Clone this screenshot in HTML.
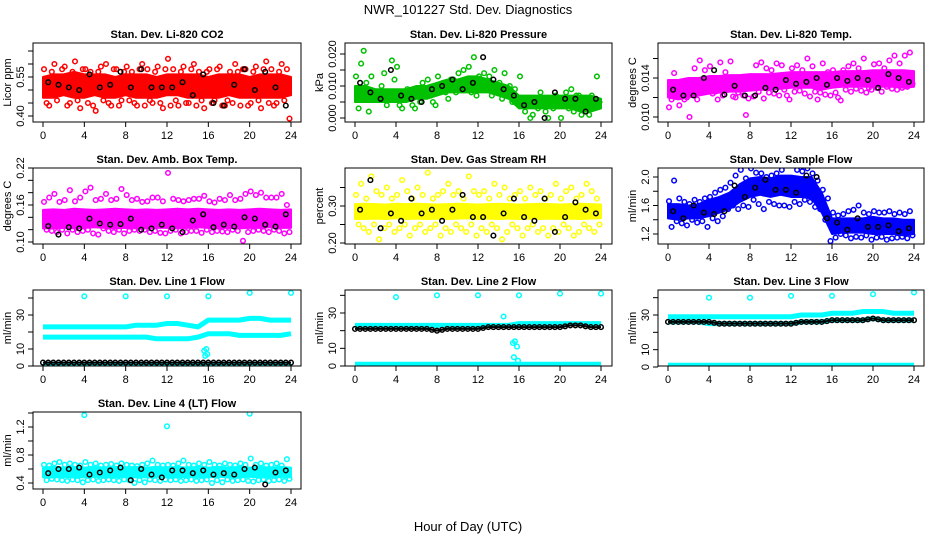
<!DOCTYPE html>
<html><head><meta charset="utf-8">
<style>
html,body{margin:0;padding:0;background:#fff;}
svg{display:block;font-family:"Liberation Sans",Arial,sans-serif;}
</style></head>
<body>
<svg id="chart" width="936" height="540" viewBox="0 0 936 540" xmlns="http://www.w3.org/2000/svg">
<rect x="0" y="0" width="936" height="540" fill="#fff"/>
<text x="468" y="14" text-anchor="middle" font-size="13">NWR_101227  Std. Dev. Diagnostics</text>
<text x="468" y="531" text-anchor="middle" font-size="13">Hour of Day (UTC)</text>
</svg>
<script>
// ---- data ----
const hourTicks=[0,4,8,12,16,20,24];
// CO2
const co2Lo=[0.47,0.47,0.48,0.47,0.47,0.48,0.47,0.47,0.48,0.47,0.47,0.47,0.48,0.48,0.47,0.47,0.47,0.47,0.48,0.47,0.47,0.47,0.47,0.47,0.48];
const co2Hi=[0.55,0.56,0.56,0.57,0.56,0.56,0.56,0.55,0.56,0.56,0.56,0.55,0.56,0.56,0.56,0.56,0.55,0.56,0.56,0.56,0.55,0.56,0.56,0.56,0.55];
const co2A=[0.58,0.44,0.60,0.52,0.59,0.45,0.61,0.43,0.58,0.57,0.42,0.59,0.60,0.44,0.58,0.46,0.59,0.57,0.44,0.60,0.58,0.45,0.59,0.43,0.62,0.58,0.44,0.59,0.45,0.60,0.57,0.43,0.58,0.46,0.59,0.44,0.57,0.60,0.44,0.58,0.45,0.59,0.43,0.61,0.58,0.45,0.60,0.58];
const co2B=[0.45,0.57,0.46,0.58,0.44,0.57,0.46,0.58,0.45,0.44,0.57,0.46,0.45,0.58,0.44,0.57,0.46,0.45,0.58,0.44,0.46,0.57,0.45,0.58,0.44,0.46,0.57,0.45,0.58,0.44,0.46,0.57,0.45,0.58,0.44,0.46,0.45,0.57,0.58,0.44,0.57,0.46,0.58,0.45,0.44,0.57,0.46,0.39];
const co2Black=[0.53,0.52,0.51,0.50,0.56,0.51,0.52,0.57,0.51,0.58,0.51,0.51,0.51,0.53,0.48,0.56,0.45,0.44,0.52,0.58,0.50,0.57,0.51,0.44];
// Pressure
const prsLo=[0.005,0.005,0.005,0.005,0.005,0.005,0.006,0.006,0.007,0.008,0.008,0.008,0.008,0.008,0.007,0.006,0.003,0.003,0.003,0.003,0.003,0.003,0.002,0.002,0.003];
const prsHi=[0.010,0.010,0.009,0.009,0.009,0.009,0.010,0.010,0.011,0.012,0.012,0.013,0.013,0.012,0.011,0.010,0.007,0.007,0.007,0.007,0.007,0.007,0.007,0.007,0.006];
const prsA=[0.013,0.017,0.011,0.013,0.006,0.010,0.004,0.018,0.016,0.003,0.009,0.004,0.007,0.011,0.012,0.005,0.013,0.011,0.006,0.012,0.014,0.015,0.016,0.019,0.013,0.014,0.013,0.015,0.011,0.014,0.010,0.009,0.013,0.002,0.000,0.005,0.008,0.002,0.004,0.007,0.000,0.008,0.009,0.007,0.001,0.005,0.007,0.013];
const prsB=[0.003,0.021,0.002,0.008,0.007,0.014,0.008,0.012,0.004,0.006,0.006,0.003,0.005,0.009,0.007,0.004,0.009,0.008,0.012,0.008,0.009,0.010,0.008,0.007,0.011,0.010,0.007,0.008,0.006,0.009,0.005,0.006,0.006,0.004,0.001,0.003,0.006,0.000,0.003,0.004,0.006,0.003,0.002,0.007,0.004,0.001,0.003,0.005];
const prsBlack=[0.011,0.008,0.006,0.015,0.007,0.006,0.005,0.009,0.010,0.012,0.009,0.011,0.019,0.012,0.009,0.007,0.004,0.005,0.000,0.008,0.006,0.006,0.002,0.006];
// Li-820 temp
const tmpLo=[0.0120,0.0118,0.0120,0.0122,0.0124,0.0125,0.0126,0.0126,0.0127,0.0128,0.0128,0.0129,0.0130,0.0130,0.0130,0.0128,0.0130,0.0131,0.0131,0.0131,0.0131,0.0131,0.0131,0.0130,0.0131];
const tmpHi=[0.0138,0.0138,0.0140,0.0140,0.0142,0.0142,0.0143,0.0143,0.0144,0.0144,0.0144,0.0145,0.0146,0.0146,0.0146,0.0146,0.0146,0.0147,0.0147,0.0147,0.0148,0.0148,0.0148,0.0148,0.0147];
const tmpA=[0.0110,0.0145,0.0112,0.0118,0.0100,0.0150,0.0158,0.0148,0.0152,0.0126,0.0156,0.0146,0.0157,0.0120,0.0140,0.0102,0.0140,0.0153,0.0156,0.0150,0.0148,0.0155,0.0153,0.0122,0.0150,0.0153,0.0148,0.0160,0.0152,0.0118,0.0155,0.0146,0.0148,0.0120,0.0148,0.0152,0.0155,0.0150,0.0160,0.0130,0.0154,0.0155,0.0150,0.0158,0.0163,0.0155,0.0163,0.0166];
const tmpB=[0.0118,0.0125,0.0130,0.0120,0.0126,0.0118,0.0125,0.0131,0.0124,0.0118,0.0122,0.0128,0.0121,0.0125,0.0122,0.0119,0.0121,0.0126,0.0119,0.0125,0.0124,0.0122,0.0128,0.0118,0.0126,0.0127,0.0124,0.0121,0.0126,0.0125,0.0123,0.0122,0.0125,0.0117,0.0128,0.0126,0.0129,0.0127,0.0125,0.0128,0.0130,0.0126,0.0131,0.0129,0.0128,0.0130,0.0131,0.0134];
const tmpBlack=[0.0128,0.0122,0.0122,0.0140,0.0148,0.0123,0.0132,0.0122,0.0122,0.0130,0.0128,0.0138,0.0134,0.0136,0.0140,0.0133,0.0140,0.0137,0.0140,0.0138,0.0130,0.0144,0.0140,0.0136];
// Amb box temp
const ambLo=[0.122,0.122,0.123,0.122,0.123,0.124,0.123,0.122,0.123,0.122,0.122,0.123,0.123,0.122,0.123,0.124,0.123,0.122,0.123,0.122,0.123,0.123,0.124,0.123,0.123];
const ambHi=[0.152,0.153,0.152,0.154,0.153,0.152,0.153,0.154,0.153,0.152,0.153,0.152,0.153,0.154,0.153,0.154,0.153,0.152,0.153,0.152,0.153,0.154,0.153,0.152,0.153];
const ambA=[0.165,0.172,0.178,0.165,0.168,0.184,0.166,0.172,0.182,0.188,0.168,0.170,0.178,0.168,0.170,0.186,0.176,0.168,0.170,0.165,0.166,0.172,0.172,0.166,0.212,0.170,0.168,0.166,0.168,0.170,0.170,0.175,0.166,0.164,0.170,0.168,0.176,0.168,0.170,0.178,0.182,0.176,0.180,0.172,0.172,0.172,0.178,0.160];
const ambB=[0.120,0.118,0.116,0.120,0.114,0.120,0.116,0.118,0.120,0.114,0.112,0.122,0.118,0.116,0.120,0.114,0.118,0.120,0.118,0.120,0.116,0.118,0.115,0.114,0.118,0.120,0.114,0.116,0.118,0.118,0.115,0.120,0.116,0.118,0.117,0.116,0.120,0.118,0.102,0.116,0.118,0.120,0.118,0.116,0.120,0.118,0.114,0.116];
const ambBlack=[0.126,0.112,0.124,0.122,0.138,0.130,0.128,0.129,0.138,0.120,0.122,0.128,0.122,0.116,0.135,0.145,0.124,0.128,0.125,0.140,0.138,0.128,0.125,0.145];
// Gas stream RH
const rhLo=[0.265,0.265,0.266,0.265,0.267,0.265,0.266,0.265,0.266,0.265,0.266,0.267,0.265,0.266,0.265,0.266,0.265,0.266,0.265,0.266,0.265,0.266,0.265,0.266,0.267];
const rhHi=[0.305,0.306,0.305,0.304,0.306,0.305,0.306,0.305,0.304,0.305,0.306,0.305,0.304,0.305,0.306,0.305,0.304,0.305,0.306,0.305,0.304,0.305,0.306,0.305,0.304];
const rhA=[0.33,0.36,0.32,0.38,0.34,0.33,0.35,0.32,0.33,0.37,0.34,0.32,0.35,0.33,0.39,0.32,0.33,0.34,0.36,0.33,0.34,0.32,0.38,0.34,0.33,0.34,0.32,0.36,0.33,0.35,0.32,0.33,0.34,0.32,0.35,0.33,0.34,0.32,0.33,0.36,0.32,0.34,0.35,0.32,0.33,0.36,0.34,0.32];
const rhB=[0.25,0.24,0.23,0.25,0.21,0.24,0.25,0.23,0.24,0.25,0.22,0.24,0.25,0.23,0.24,0.25,0.22,0.24,0.23,0.25,0.24,0.23,0.25,0.22,0.24,0.23,0.25,0.24,0.21,0.23,0.25,0.24,0.22,0.24,0.25,0.23,0.24,0.22,0.24,0.23,0.25,0.24,0.22,0.23,0.25,0.24,0.23,0.25];
const rhBlack=[0.29,0.37,0.24,0.28,0.26,0.32,0.28,0.29,0.26,0.29,0.33,0.27,0.27,0.22,0.28,0.32,0.27,0.26,0.32,0.23,0.27,0.31,0.29,0.28];
// Sample flow
const sfLo=[1.42,1.40,1.42,1.42,1.45,1.50,1.55,1.65,1.72,1.75,1.72,1.75,1.72,1.72,1.70,1.50,1.20,1.22,1.22,1.22,1.20,1.20,1.20,1.18,1.20];
const sfHi=[1.62,1.62,1.60,1.62,1.68,1.72,1.78,1.90,1.98,2.00,1.98,2.02,2.02,2.00,2.00,1.78,1.42,1.42,1.42,1.42,1.44,1.42,1.42,1.40,1.40];
const sfA=[1.66,1.95,1.70,1.65,1.62,1.68,1.65,1.70,1.72,1.78,1.82,1.85,1.92,2.02,2.10,1.98,2.12,2.06,2.05,2.00,2.02,2.05,2.10,2.26,2.18,2.10,2.08,2.12,2.05,1.95,1.82,1.70,1.50,1.46,1.48,1.52,1.54,1.60,1.50,1.48,1.52,1.50,1.50,1.52,1.48,1.50,1.48,1.52];
const sfB=[1.30,1.38,1.35,1.32,1.40,1.36,1.38,1.30,1.42,1.38,1.45,1.55,1.60,1.55,1.60,1.58,1.68,1.62,1.55,1.65,1.62,1.60,1.60,1.58,1.65,1.62,1.68,1.65,1.58,1.55,1.40,1.10,1.15,1.20,1.18,1.14,1.16,1.15,1.18,1.12,1.15,1.16,1.12,1.14,1.15,1.16,1.14,1.18];
const sfBlack=[1.52,1.42,1.60,1.50,1.48,1.52,1.88,1.72,1.85,1.96,1.82,1.82,1.78,2.02,2.00,1.42,1.36,1.26,1.42,1.30,1.30,1.32,1.24,1.28];
// Line flows (tracks are hourly values)
const l1Upper=[23,23,23,23,23,23,23,23,23,24,24,24,25,25,24,23,27,27,27,27,28,28,27,27,27];
const l1Mid=[17,17,17,17,17,17,17,17,17,17,17,16,16,16,16,17,19,19,19,18,18,18,18,18,19];
const l1Low=[1,1,1,1,1,1,1,1,1,1,1,1,1,1,1,1,1,1,1,1,1,1,1,1,1];
const l1Black=[2,2,2,2,2,2,2,2,2,2,2,2,2,2,2,2,2,2,2,2,2,2,2,2,2];
const spikeHours=[4,8,12,16,20,24];
const l1Spikes=[41,41,41,41,43,43];
const l1DipHours=[15.6,15.7,15.8,15.9];
const l1Dips=[9,6,10,7];
const l2Upper=[23,23,23,23,23,23,23,23,23,23,23,23,23,23,23,23,24,24,24,24,24,24,24,24,24];
const l2Black=[21,21,21,21,21,21,21,21,20,21,21,21,21,22,22,22,22,22,22,22,22,23,23,22,22];
const l2Low=[1,1,1,1,1,1,1,1,1,1,1,1,1,1,1,1,1,1,1,1,1,1,1,1,1];
const l2Spikes=[39,40,40,40,41,41];
const l2DipHours=[14.5,15.4,15.6,15.8,15.5,15.9];
const l2Dips=[28,13,14,11,5,3];
const l3Upper=[29,29,29,29,29,29,29,29,29,29,29,29,29,30,30,30,31,31,31,32,32,32,31,31,31];
const l3Mid=[26,26,26,26,25,25,25,25,25,25,25,25,25,26,26,26,27,27,27,27,28,27,27,27,27];
const l3Black=[26,26,26,26,26,25,25,25,25,25,25,25,25,26,26,26,27,27,27,27,28,27,27,27,27];
const l3Low=[1,1,1,1,1,1,1,1,1,1,1,1,1,1,1,1,1,1,1,1,1,1,1,1,1];
const l3Spikes=[40,40,41,41,42,43];
// Line 4
const l4Lo=[0.48,0.48,0.49,0.48,0.48,0.49,0.48,0.48,0.49,0.48,0.48,0.49,0.48,0.48,0.49,0.48,0.48,0.49,0.48,0.48,0.49,0.48,0.48,0.49,0.48];
const l4Hi=[0.62,0.63,0.62,0.63,0.62,0.63,0.62,0.63,0.62,0.63,0.62,0.63,0.62,0.63,0.62,0.63,0.62,0.63,0.62,0.63,0.62,0.63,0.62,0.63,0.62];
const l4A=[0.66,0.65,0.68,0.70,0.66,0.68,0.66,0.65,0.70,0.66,0.68,0.65,0.66,0.67,0.65,0.68,0.66,0.65,0.64,0.66,0.68,0.72,0.66,0.65,0.66,0.65,0.68,0.72,0.66,0.65,0.68,0.66,0.70,0.66,0.65,0.68,0.66,0.65,0.68,0.66,0.75,0.66,0.68,0.65,0.66,0.68,0.65,0.74];
const l4B=[0.44,0.46,0.45,0.44,0.43,0.45,0.44,0.41,0.44,0.45,0.43,0.44,0.45,0.44,0.43,0.45,0.44,0.40,0.44,0.41,0.45,0.44,0.43,0.45,0.44,0.45,0.43,0.44,0.45,0.43,0.44,0.45,0.40,0.44,0.41,0.45,0.43,0.44,0.45,0.43,0.42,0.44,0.45,0.43,0.44,0.45,0.43,0.46];
const l4Black=[0.54,0.60,0.60,0.62,0.52,0.55,0.58,0.62,0.44,0.60,0.52,0.48,0.58,0.58,0.54,0.58,0.52,0.54,0.52,0.60,0.62,0.38,0.55,0.58];
const l4SpikeHours=[4,12,20];
const l4Spikes=[1.37,1.21,1.39];

// ---- panels ----
const svg=document.getElementById('chart');
const NS='http://www.w3.org/2000/svg';
function el(tag,attrs,parent){const e=document.createElementNS(NS,tag);for(const k in attrs)e.setAttribute(k,attrs[k]);(parent||svg).appendChild(e);return e;}
const halfA=co2A.map((_,i)=>i*0.5+0.1), halfB=co2B.map((_,i)=>i*0.5+0.35), hourIdx=co2Lo.map((_,i)=>i), blackH=co2Black.map((_,i)=>i+0.5);

const panels=[
 {name:'co2',title:'Stan. Dev. Li-820 CO2',ylab:'Licor ppm',box:[33,43,301,122],x0:43,x24:291,ya:[0.40,116],yb:[0.55,77],ticks:[0.40,0.45,0.50,0.55,0.60,0.65],labels:['0.40','0.55'],col:'#ff0000',lo:co2Lo,hi:co2Hi,A:co2A,B:co2B,K:co2Black},
 {name:'pressure',title:'Stan. Dev. Li-820 Pressure',ylab:'kPa',box:[345,43,612,122],x0:355,x24:601,ya:[0,118],yb:[0.020,54],ticks:[0,0.005,0.010,0.015,0.020],labels:['0.000','0.010','0.020'],col:'#00c000',lo:prsLo,hi:prsHi,A:prsA,B:prsB,K:prsBlack},
 {name:'licor-temp',title:'Stan. Dev. Li-820 Temp.',ylab:'degrees C',box:[658,43,924,122],x0:668,x24:914,ya:[0.010,117],yb:[0.014,78],ticks:[0.010,0.012,0.014,0.016],labels:['0.010','0.014'],col:'#ff00ff',lo:tmpLo,hi:tmpHi,A:tmpA,B:tmpB,K:tmpBlack},
 {name:'amb-box-temp',title:'Stan. Dev. Amb. Box Temp.',ylab:'degrees C',box:[33,168,301,244],x0:43,x24:291,ya:[0.10,242],yb:[0.22,168],ticks:[0.10,0.12,0.14,0.16,0.18,0.20,0.22],labels:['0.10','0.16','0.22'],col:'#ff00ff',lo:ambLo,hi:ambHi,A:ambA,B:ambB,K:ambBlack},
 {name:'gas-rh',title:'Stan. Dev. Gas Stream RH',ylab:'percent',box:[345,168,612,244],x0:355,x24:601,ya:[0.20,243],yb:[0.30,206],ticks:[0.20,0.25,0.30,0.35],labels:['0.20','0.30'],col:'#ffff00',lo:rhLo,hi:rhHi,A:rhA,B:rhB,K:rhBlack},
 {name:'sample-flow',title:'Stan. Dev. Sample Flow',ylab:'ml/min',box:[658,168,924,244],x0:668,x24:914,ya:[1.2,234],yb:[2.0,177],ticks:[1.2,1.4,1.6,1.8,2.0],labels:['1.2','1.6','2.0'],col:'#0000ff',lo:sfLo,hi:sfHi,A:sfA,B:sfB,K:sfBlack},
 {name:'line1-flow',title:'Stan. Dev. Line 1 Flow',ylab:'ml/min',box:[33,290,301,366],x0:43,x24:291,ya:[0,366],yb:[30,315],ticks:[0,10,20,30,40],labels:['0','10','30'],col:'#00ffff',tracks:[l1Upper,l1Mid,l1Low],blackTrack:l1Black,spikes:[[spikeHours,l1Spikes],[l1DipHours,l1Dips]]},
 {name:'line2-flow',title:'Stan. Dev. Line 2 Flow',ylab:'ml/min',box:[345,290,612,366],x0:355,x24:601,ya:[0,366],yb:[30,313],ticks:[0,10,20,30,40],labels:['0','10','30'],col:'#00ffff',tracks:[l2Upper,l2Low],blackTrack:l2Black,spikes:[[spikeHours,l2Spikes],[l2DipHours,l2Dips]]},
 {name:'line3-flow',title:'Stan. Dev. Line 3 Flow',ylab:'ml/min',box:[658,290,924,366],x0:668,x24:914,ya:[0,367],yb:[30,315],ticks:[0,10,20,30,40],labels:['0','10','30'],col:'#00ffff',tracks:[l3Upper,l3Mid,l3Low],blackTrack:l3Black,spikes:[[spikeHours,l3Spikes]]},
 {name:'line4-flow',title:'Stan. Dev. Line 4 (LT) Flow',ylab:'ml/min',box:[33,412,301,489],x0:43,x24:291,ya:[0.4,483],yb:[1.2,427],ticks:[0.4,0.6,0.8,1.0,1.2,1.4],labels:['0.4','0.8','1.2'],col:'#00ffff',lo:l4Lo,hi:l4Hi,A:l4A,B:l4B,K:l4Black,spikes:[[l4SpikeHours,l4Spikes]]}
];

panels.forEach(p=>{
 const g=el('g',{});
 
 
 const [L,T,R,B]=p.box;
 const X=h=>p.x0+h*(p.x24-p.x0)/24;
 const Y=v=>p.ya[1]+(v-p.ya[0])*(p.yb[1]-p.ya[1])/(p.yb[0]-p.ya[0]);
 const clip='clip-'+p.name;
 const cp=el('clipPath',{id:clip},g); el('rect',{x:L,y:T,width:R-L,height:B-T},cp);
 const plot=el('g',{'clip-path':'url(#'+clip+')'},g);
 const pt=(h,v,c,cls)=>{const c1=el('circle',{cx:X(h).toFixed(1),cy:Y(v).toFixed(1),r:2.3,fill:'none',stroke:c,'stroke-width':1.5},plot);
   
   };
 if(p.lo){
   const pts=p.lo.map((v,i)=>X(hourIdx[i])+','+Y(v)).concat(p.hi.map((v,i)=>X(hourIdx[i])+','+Y(v)).reverse());
   const band=el('polygon',{points:pts.join(' '),fill:p.col,stroke:p.col,'stroke-width':2,'stroke-linejoin':'round'},plot);
   
   
   p.A.forEach((v,i)=>pt(halfA[i],v,p.col,'point'));
   p.B.forEach((v,i)=>pt(halfB[i],v,p.col,'point'));
 }
 if(p.tracks){
   p.tracks.forEach(tr=>{
     const ln=el('polyline',{points:tr.map((v,i)=>X(hourIdx[i])+','+Y(v)).join(' '),fill:'none',stroke:p.col,'stroke-width':5,'stroke-linejoin':'round'},plot);
     
     
   });
 }
 if(p.spikes){p.spikes.forEach(([hs,vs])=>vs.forEach((v,i)=>pt(hs[i],v,p.col,'outlier-point')));}
 if(p.blackTrack){
   const ln=el('polyline',{points:p.blackTrack.map((v,i)=>X(hourIdx[i])+','+Y(v)).join(' '),fill:'none',stroke:'#000','stroke-width':2},plot);
   
   
   p.blackTrack.forEach((v,i)=>{pt(hourIdx[i],v,'#000','reference-point'); if(i<24) pt(hourIdx[i]+0.5,(v+p.blackTrack[i+1])/2,'#000','reference-point');});
 }
 if(p.K){p.K.forEach((v,i)=>pt(blackH[i],v,'#000','reference-point'));}
 // frame
 const fr=el('rect',{x:L,y:T,width:R-L,height:B-T,fill:'none',stroke:'#000','stroke-width':1},g);
 
 
 // title
 const t=el('text',{x:(L+R)/2,y:T-5,'text-anchor':'middle','font-size':11,'font-weight':'bold'},g); t.textContent=p.title;
 
 
 // x axis
 el('line',{x1:X(0),y1:B,x2:X(24),y2:B,stroke:'#000'},g);
 hourTicks.forEach(h=>{
   el('line',{x1:X(h),y1:B,x2:X(h),y2:B+5,stroke:'#000'},g);
   const tx=el('text',{x:X(h),y:B+17,'text-anchor':'middle','font-size':11},g); tx.textContent=h;
   
   
 });
 // y axis
 el('line',{x1:L,y1:Y(p.ticks[0]),x2:L,y2:Math.max(T,Y(p.ticks[p.ticks.length-1])),stroke:'#000'},g);
 p.ticks.forEach(v=>{ if(Y(v)>=T-1) el('line',{x1:L-5,y1:Y(v),x2:L,y2:Y(v),stroke:'#000'},g); });
 p.labels.forEach(s=>{
   const yy=Y(parseFloat(s));
   const ty=el('text',{x:0,y:0,'text-anchor':'middle','font-size':11,transform:'translate('+(L-9)+','+yy+') rotate(-90)'},g); ty.textContent=s;
   
   
 });
 const yt=el('text',{x:0,y:0,'text-anchor':'middle','font-size':11,transform:'translate('+(L-22)+','+((T+B)/2)+') rotate(-90)'},g); yt.textContent=p.ylab;
 
 
});
</script>
</body></html>
